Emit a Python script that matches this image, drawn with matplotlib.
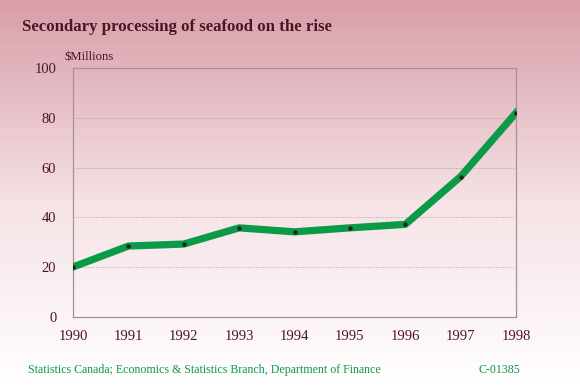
import numpy as np
import matplotlib
matplotlib.use("Agg")
import matplotlib.pyplot as plt
from matplotlib.colors import LinearSegmentedColormap

years = [1990, 1991, 1992, 1993, 1994, 1995, 1996, 1997, 1998]
values = [20.1, 28.5, 29.3, 35.8, 34.2, 35.8, 37.2, 56.4, 82.0]
yticks = [0, 20, 40, 60, 80, 100]

maroon = "#4e1424"
green = "#0a9a48"

plt.rcParams["font.family"] = ["Liberation Serif", "DejaVu Serif"]

fig = plt.figure(figsize=(5.8, 3.85), dpi=100)

# background gradient, pink at top to white at bottom
bg = fig.add_axes([0, 0, 1, 1], zorder=-10)
cmap = LinearSegmentedColormap.from_list("bg", ["#ffffff", "#f6e4e7", "#d89ea9"])
grad = np.linspace(0, 1, 256).reshape(-1, 1) ** 0.9
bg.imshow(grad, aspect="auto", cmap=cmap, origin="lower", extent=[0, 1, 0, 1])
bg.axis("off")

ax = fig.add_axes([0.1259, 0.1766, 0.7638, 0.6468])
ax.patch.set_alpha(0)
ax.plot(years, values, color=green, lw=5.2, solid_joinstyle="round", zorder=3)
ax.plot(years, values, "o", color="#222222", ms=2.2, zorder=4)

ax.set_xlim(1990, 1998)
ax.set_ylim(0, 100)
ax.set_yticks(yticks)
ax.set_xticks(years)
for y in yticks[1:-1]:
    ax.axhline(y, color="#9a8a8e", lw=0.6, ls=(0, (1, 2)), zorder=1)
for s in ax.spines.values():
    s.set_color("#a89098")
    s.set_linewidth(0.9)
ax.tick_params(length=0, labelsize=10.5, colors=maroon)
ax.tick_params(axis="x", pad=9)
ax.tick_params(axis="y", pad=12)

fig.text(0.038, 0.93, "Secondary processing of seafood on the rise",
         fontsize=12.1, fontweight="bold", color=maroon, va="center")
fig.text(0.112, 0.852, "$Millions", fontsize=9.2, color=maroon, va="center")
fig.text(0.048, 0.04, "Statistics Canada; Economics & Statistics Branch, Department of Finance",
         fontsize=8.6, color=green, va="center")
fig.text(0.897, 0.04, "C-01385", fontsize=8.6, color=green, va="center", ha="right")

fig.savefig("out.png", dpi=100)
